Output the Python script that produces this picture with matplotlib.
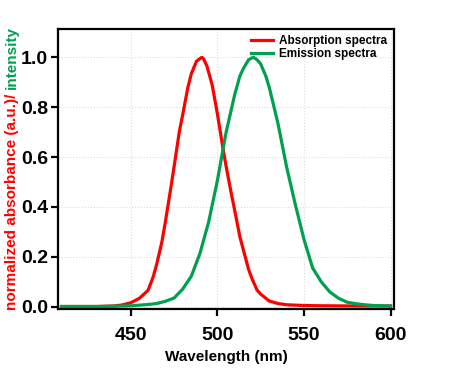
import matplotlib
matplotlib.use('Agg')
import matplotlib.pyplot as plt

plt.rcParams['font.family'] = ['Liberation Sans', 'DejaVu Sans']
plt.rcParams['font.weight'] = 'bold'

# absorption spectrum (normalized)
abs_wl = [410, 420, 430, 440, 445, 450, 455, 460, 463, 465, 468, 470, 473, 475, 478,
          480, 483, 485, 488, 490, 491, 492, 494, 497, 500, 503, 505, 508, 510, 513,
          515, 518, 520, 523, 525, 530, 535, 540, 550, 560, 580, 600]
abs_val = [0.000, 0.000, 0.000, 0.002, 0.006, 0.015, 0.033, 0.065, 0.12, 0.17, 0.26, 0.34,
           0.47, 0.56, 0.70, 0.77, 0.88, 0.935, 0.985, 0.995, 1.000, 0.995, 0.965, 0.89,
           0.775, 0.645, 0.565, 0.455, 0.387, 0.28, 0.228, 0.15, 0.112, 0.065, 0.05,
           0.022, 0.012, 0.007, 0.004, 0.003, 0.002, 0.002]

# emission spectrum (normalized)
em_wl = [410, 430, 440, 450, 460, 465, 470, 475, 480, 485, 490, 495, 500, 505, 510,
         513, 515, 518, 520, 521, 523, 525, 528, 530, 535, 540, 545, 550, 555, 560,
         565, 570, 575, 580, 585, 590, 600]
em_val = [0.000, 0.000, 0.001, 0.003, 0.008, 0.012, 0.021, 0.034, 0.07, 0.122, 0.214,
          0.34, 0.505, 0.697, 0.85, 0.925, 0.955, 0.99, 0.998, 1.000, 0.99, 0.974,
          0.925, 0.879, 0.735, 0.56, 0.41, 0.27, 0.155, 0.099, 0.058, 0.033, 0.017,
          0.011, 0.007, 0.004, 0.002]

red = '#ff0000'
green = '#00a04f'

fig = plt.figure(figsize=(4.67, 3.79), dpi=100)
ax = fig.add_axes([0.1242, 0.1847, 0.7195, 0.7388])

ax.plot(abs_wl, abs_val, color=red, lw=2.3, label='Absorption spectra')
ax.plot(em_wl, em_val, color=green, lw=2.3, label='Emission spectra')

ax.set_xlim(408, 602)
ax.set_ylim(-0.01, 1.114)
ax.set_xticks([450, 500, 550, 600])
ax.set_yticks([0.0, 0.2, 0.4, 0.6, 0.8, 1.0])
ax.set_yticklabels(['0.0', '0.2', '0.4', '0.6', '0.8', '1.0'])
ax.grid(True, color='#dcdcdc', linestyle=':', lw=0.8)
ax.set_axisbelow(True)

for s in ax.spines.values():
    s.set_linewidth(1.6)
ax.tick_params(axis='both', direction='out', length=5, width=1.6, labelsize=14)
ax.tick_params(axis='x', pad=8)
ax.tick_params(axis='y', pad=2)
for lab in ax.get_xticklabels() + ax.get_yticklabels():
    lab.set_fontweight('bold')

ax.set_xlabel('Wavelength (nm)', fontsize=11, fontweight='bold', labelpad=4)

leg = ax.legend(loc='upper right', frameon=False, handlelength=1.9,
                handletextpad=0.5, labelspacing=0.05, borderaxespad=0.15,
                prop={'weight': 'bold', 'size': 8.5})

# two-coloured y label
fig.canvas.draw()
r = fig.canvas.get_renderer()
t1 = fig.text(0.026, 0.182, 'normalized absorbance (a.u.)/', color=red, rotation=90,
              ha='center', va='bottom', fontsize=11, fontweight='bold')
bb = t1.get_window_extent(renderer=r).transformed(fig.transFigure.inverted())
fig.text(0.026, bb.y1 + 0.012, 'intensity', color=green, rotation=90,
         ha='center', va='bottom', fontsize=11, fontweight='bold')

fig.savefig('out.png', dpi=100)
